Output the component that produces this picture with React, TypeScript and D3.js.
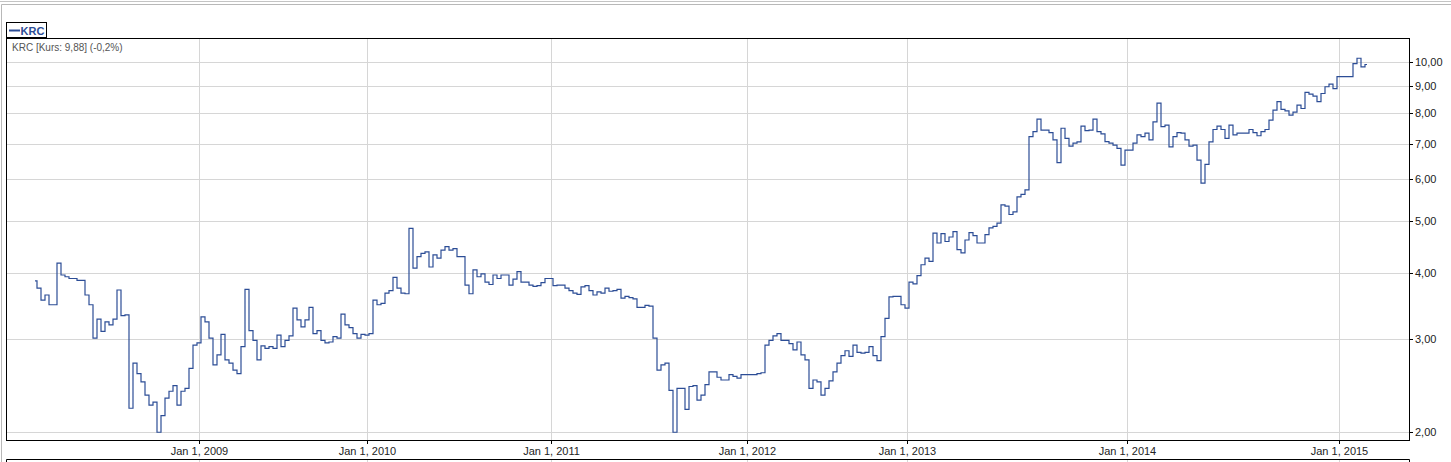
import { useEffect, useRef } from "react";
import * as d3 from "d3";

// KRC close prices, sampled per trading session (one array per calendar year)
const v2008 = [3.86, 3.74, 3.55, 3.63, 3.48, 3.48, 4.17, 3.96, 3.93, 3.90, 3.90, 3.87, 3.87, 3.63, 3.48, 3.01, 3.27, 3.10, 3.23, 3.19, 3.27, 3.71, 3.32, 3.33, 2.22, 2.70, 2.58, 2.49, 2.35, 2.25, 2.28, 2.00, 2.15, 2.32, 2.39, 2.45, 2.25, 2.39, 2.42, 2.64, 2.92];
const v2009 = [2.95, 3.30, 3.23, 3.01, 2.68, 2.80, 3.06, 2.74, 2.70, 2.62, 2.58, 2.90, 3.72, 3.11, 2.98, 2.74, 2.91, 2.88, 2.90, 2.88, 3.05, 2.90, 2.98, 3.04, 3.43, 3.26, 3.16, 3.26, 3.44, 3.07, 3.11, 2.98, 2.95, 2.96, 3.03, 3.01, 3.34, 3.19, 3.15, 3.07, 3.01, 3.06];
const v2010 = [3.05, 3.07, 3.55, 3.48, 3.50, 3.66, 3.70, 3.92, 3.74, 3.66, 3.65, 4.85, 4.08, 4.29, 4.35, 4.38, 4.10, 4.32, 4.26, 4.41, 4.48, 4.41, 4.44, 4.29, 4.29, 3.79, 3.65, 4.05, 3.93, 3.98, 3.84, 3.80, 3.96, 3.90, 3.96, 3.96, 3.79, 3.89, 4.02, 3.84, 3.84, 3.79, 3.77, 3.78, 3.83, 3.90];
const v2011 = [3.90, 3.78, 3.79, 3.79, 3.74, 3.70, 3.66, 3.64, 3.76, 3.78, 3.70, 3.63, 3.68, 3.66, 3.74, 3.69, 3.70, 3.72, 3.58, 3.61, 3.59, 3.57, 3.44, 3.44, 3.47, 3.46, 3.01, 2.62, 2.68, 2.70, 2.40, 2.00, 2.42, 2.42, 2.21, 2.44, 2.45, 2.30, 2.35, 2.46, 2.60, 2.60, 2.54, 2.51, 2.51, 2.57, 2.55, 2.53, 2.57];
const v2012 = [2.57, 2.57, 2.57, 2.58, 2.59, 2.92, 2.98, 3.04, 3.07, 2.98, 2.98, 2.94, 2.86, 2.96, 2.80, 2.74, 2.42, 2.51, 2.49, 2.35, 2.42, 2.50, 2.60, 2.70, 2.79, 2.85, 2.78, 2.92, 2.83, 2.82, 2.83, 2.90, 2.79, 2.73, 3.03, 3.28, 3.60, 3.61, 3.61, 3.48];
const v2013 = [3.43, 3.84, 3.81, 3.95, 4.14, 4.26, 4.20, 4.75, 4.55, 4.74, 4.58, 4.67, 4.78, 4.42, 4.36, 4.61, 4.76, 4.70, 4.55, 4.55, 4.72, 4.86, 4.89, 4.96, 5.37, 5.34, 5.15, 5.21, 5.56, 5.62, 5.73, 7.22, 7.38, 7.79, 7.43, 7.43, 7.35, 7.12, 6.45, 7.49, 7.17, 6.93, 7.02, 7.06, 7.56, 7.41, 7.43, 7.79, 7.38, 7.31, 7.07, 7.02, 6.96, 6.86, 6.38];
const v2014 = [6.81, 6.81, 7.02, 7.28, 7.22, 7.33, 7.12, 7.70, 8.35, 7.54, 7.59, 6.91, 7.22, 7.35, 7.33, 7.12, 6.93, 6.96, 6.52, 5.90, 6.40, 7.06, 7.45, 7.56, 7.45, 7.17, 7.59, 7.28, 7.33, 7.33, 7.33, 7.45, 7.35, 7.25, 7.38, 7.45, 7.76, 8.10, 8.41, 8.13, 8.08, 7.93, 8.03, 8.28, 8.16, 8.75, 8.69, 8.61, 8.41, 8.71, 8.97, 9.07, 8.90];
const v2015 = [9.37, 9.37, 9.37, 9.37, 9.92, 10.15, 9.78, 9.88];

const years = [v2008, v2009, v2010, v2011, v2012, v2013, v2014, v2015];
const xTickLabels = ["Jan 1, 2009", "Jan 1, 2010", "Jan 1, 2011", "Jan 1, 2012", "Jan 1, 2013", "Jan 1, 2014", "Jan 1, 2015"];
const yTicks = [2, 3, 4, 5, 6, 7, 8, 9, 10];

const SERIES = "KRC";
const HEADER = "KRC [Kurs: 9,88] (-0,2%)";

const W = 1451;
const H = 462;
const FONT = "'Liberation Sans', Arial, sans-serif";
const BLUE = "#2c4d96";
const GRID = "#d6d6d6";

export default function App() {
  const svgRef = useRef<SVGSVGElement>(null);

  useEffect(() => {
    if (!svgRef.current) return;
    const svg = d3.select(svgRef.current);
    svg.selectAll("*").remove();

    const L = 6, T = 38, R = 1409, B = 440;

    const values = years.flat();
    const yearStart: number[] = [];
    let acc = 0;
    years.forEach((ys) => { yearStart.push(acc); acc += ys.length; });

    const x = d3.scaleLinear().domain([0, values.length - 1]).range([35, 1367]);
    const y = d3.scaleLog().domain([1.934, 11.084]).range([B, T]);

    const loc = d3.formatLocale({ decimal: ",", thousands: ".", grouping: [3], currency: ["", ""] });
    const fmt = loc.format(".2f");
    const crisp = (v: number) => Math.round(v) + 0.5;

    // outer panel chrome
    svg.append("line").attr("x1", 0).attr("x2", W).attr("y1", 1.5).attr("y2", 1.5).attr("stroke", "#c4c4c4");
    svg.append("line").attr("x1", 1.5).attr("x2", W).attr("y1", 4.5).attr("y2", 4.5).attr("stroke", "#b8b8b8");
    svg.append("line").attr("x1", 1.5).attr("x2", 1.5).attr("y1", 4.5).attr("y2", H).attr("stroke", "#b8b8b8");

    // legend box
    svg.append("rect").attr("x", 6.5).attr("y", 22.5).attr("width", 40).attr("height", 15)
      .attr("fill", "#fff").attr("stroke", "#000");
    svg.append("line").attr("x1", 9).attr("x2", 20).attr("y1", 30.5).attr("y2", 30.5)
      .attr("stroke", BLUE).attr("stroke-width", 2);
    svg.append("text").attr("x", 20.5).attr("y", 35)
      .attr("font-family", FONT).attr("font-size", 11).attr("font-weight", "bold")
      .attr("fill", BLUE).text(SERIES);

    // grid
    const grid = svg.append("g").attr("stroke", GRID).attr("stroke-width", 1);
    yTicks.forEach((t) => {
      grid.append("line").attr("x1", L).attr("x2", R).attr("y1", crisp(y(t))).attr("y2", crisp(y(t)));
    });
    yearStart.slice(1).forEach((i) => {
      grid.append("line").attr("x1", crisp(x(i))).attr("x2", crisp(x(i))).attr("y1", T).attr("y2", B);
      grid.append("line").attr("x1", crisp(x(i))).attr("x2", crisp(x(i))).attr("y1", 460).attr("y2", H);
    });

    // price line
    const line = d3.line<number>()
      .x((_, i) => x(i))
      .y((d) => y(d))
      .curve(d3.curveStep);
    svg.append("path").datum(values).attr("d", line)
      .attr("fill", "none").attr("stroke", BLUE).attr("stroke-width", 1.2);

    // frame
    svg.append("rect").attr("x", L + 0.5).attr("y", T + 0.5).attr("width", R - L).attr("height", B - T)
      .attr("fill", "none").attr("stroke", "#000");
    svg.append("path").attr("d", `M${L + 0.5},${H}V459.5H${R + 0.5}V${H}`)
      .attr("fill", "none").attr("stroke", "#000");

    svg.append("text").attr("x", 12).attr("y", 51)
      .attr("font-family", FONT).attr("font-size", 10).attr("fill", "#555").text(HEADER);

    // right axis
    const ya = svg.append("g");
    yTicks.forEach((t) => {
      const yy = crisp(y(t));
      ya.append("line").attr("x1", R).attr("x2", R + 4).attr("y1", yy).attr("y2", yy).attr("stroke", "#000");
      ya.append("text").attr("x", R + 6).attr("y", yy).attr("dy", "0.35em")
        .attr("font-family", FONT).attr("font-size", 11).attr("fill", "#222").text(fmt(t));
    });

    // bottom axis
    const xa = svg.append("g");
    yearStart.slice(1).forEach((i, k) => {
      const xx = crisp(x(i));
      xa.append("line").attr("x1", xx).attr("x2", xx).attr("y1", B).attr("y2", B + 4).attr("stroke", "#000");
      xa.append("text").attr("x", xx).attr("y", 455).attr("text-anchor", "middle")
        .attr("font-family", FONT).attr("font-size", 11).attr("fill", "#222").text(xTickLabels[k]);
    });
  }, []);

  return (
    <svg ref={svgRef} width={W} height={H}
      style={{ position: "absolute", left: 0, top: 0, background: "#fff" }} />
  );
}
